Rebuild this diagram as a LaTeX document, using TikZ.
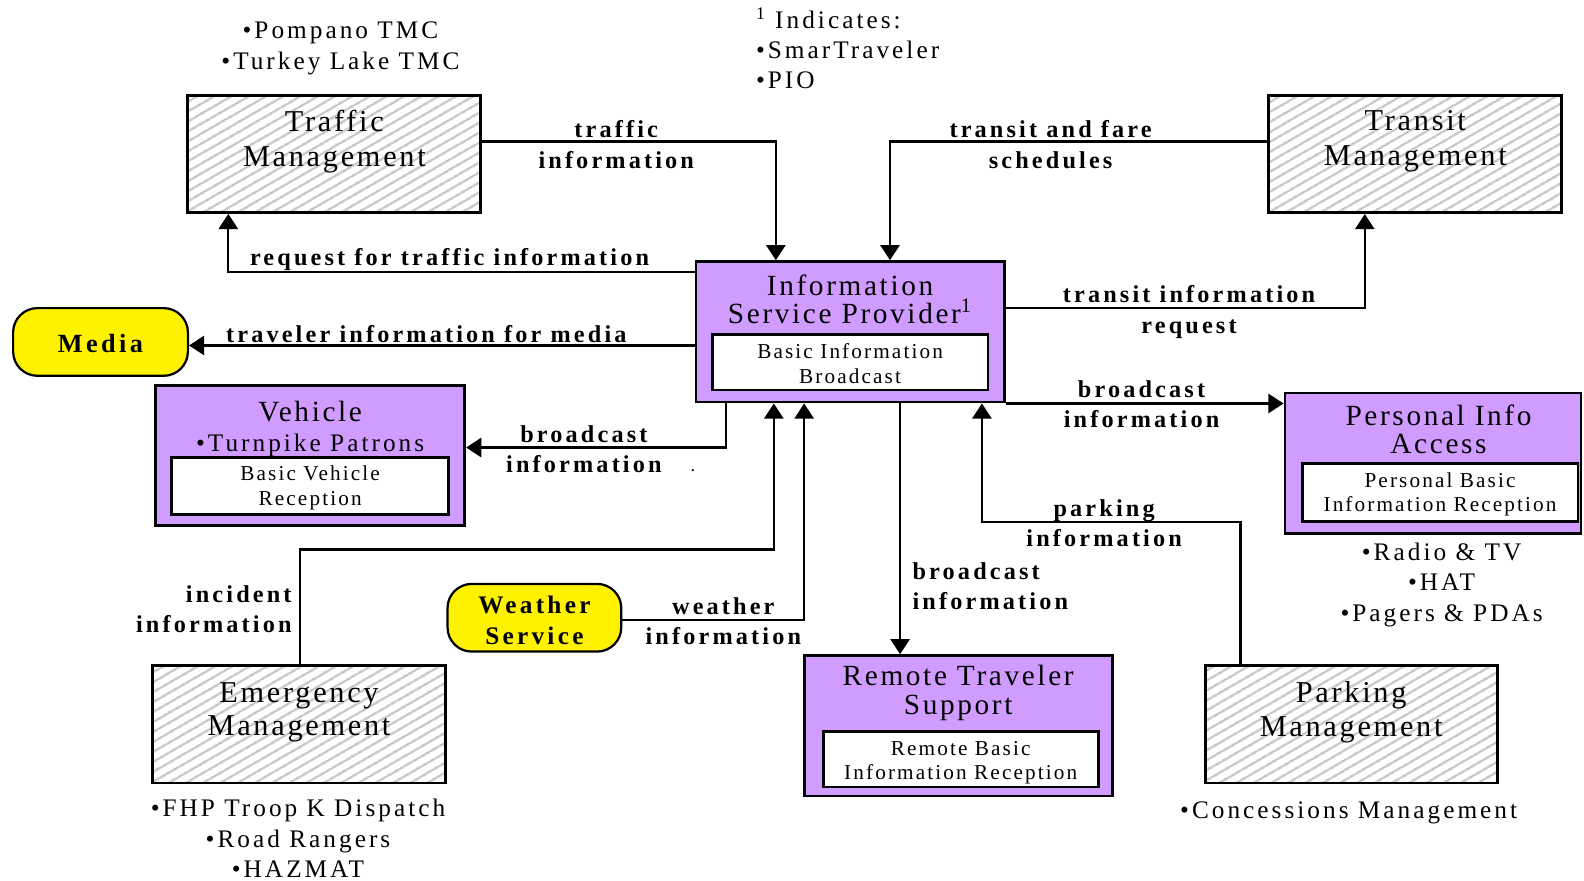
\documentclass[tikz,border=0pt]{standalone}
\usepackage{fontspec}
\setmainfont{Liberation Serif}
\newfontfamily\titlefam{Liberation Serif}[LetterSpace=9]
\newfontfamily\labfam{Liberation Serif}[LetterSpace=13]
\newfontfamily\notefam{Liberation Serif}[LetterSpace=12]
\newfontfamily\innerfam{Liberation Serif}[LetterSpace=10]
\usepackage{tikz}
\usetikzlibrary{arrows.meta,positioning,patterns.meta}
\definecolor{ispurple}{RGB}{208,156,255}

\begin{document}
\begin{tikzpicture}[x=0.5pt,y=-0.5pt,>={Triangle[length=7.5pt,width=9.5pt]}]
  \tikzstyle{hatchbox}=[draw,line width=1.4pt,inner sep=0pt,minimum width=145pt,minimum height=58pt,
    pattern={Lines[angle=30,distance=4pt,line width=1.2pt]},pattern color=gray!45]
  \tikzstyle{purplebox}=[draw,line width=1.4pt,fill=ispurple,inner sep=0pt,minimum width=152.5pt,minimum height=69.5pt]
  \tikzstyle{whitebox}=[draw,line width=1.4pt,fill=white,inner sep=0pt,minimum width=136.5pt,minimum height=28pt]
  \tikzstyle{yellowbox}=[draw,line width=1.1pt,fill=yellow,rounded corners=12pt,inner sep=0pt,minimum width=86.5pt,minimum height=33.5pt]
  \tikzstyle{title}=[align=center,inner sep=0pt,font=\titlefam\fontsize{14.5pt}{14pt}\selectfont]
  \tikzstyle{inner}=[align=center,inner sep=0pt,font=\innerfam\fontsize{10.5pt}{12pt}\selectfont]
  \tikzstyle{lab}=[align=center,inner sep=0pt,font=\labfam\bfseries\fontsize{12pt}{15pt}\selectfont]
  \tikzstyle{note}=[align=center,inner sep=0pt,font=\notefam\fontsize{12.5pt}{15pt}\selectfont]
  \tikzstyle{flow}=[->,line width=1.1pt]
  \useasboundingbox (0,0) rectangle (1568,872);

  % outside systems
  \node[hatchbox] (tm) at (331,152.5) {};
  \node[title,font=\titlefam\fontsize{15pt}{17.5pt}\selectfont] (tmt) at (331,140) {Traffic\\Management};
  \node[hatchbox] (trm) at (1401,152.5) {};
  \node[title,font=\titlefam\fontsize{15pt}{17.5pt}\selectfont] (trmt) at (1401,140) {Transit\\Management};
  \node[hatchbox] (em) at (296,717) {};
  \node[title,font=\titlefam\fontsize{15pt}{16pt}\selectfont] (emt) at (296,705) {Emergency\\Management};
  \node[hatchbox,minimum width=144.5pt] (pm) at (1337.5,717) {};
  \node[title,font=\titlefam\fontsize{15pt}{17pt}\selectfont] (pmt) at (1337.5,705) {Parking\\Management};
  \node[yellowbox] (media) at (99.5,338.5) {};
  \node[lab,font=\labfam\bfseries\fontsize{13pt}{15pt}\selectfont] (mediat) at (99.5,340) {Media};
  \node[yellowbox,minimum width=86pt] (ws) at (529,611.5) {};
  \node[lab,font=\labfam\bfseries\fontsize{12.5pt}{15pt}\selectfont] (wst) at (529,614) {Weather\\Service};

  % ITS subsystems
  \node[purplebox] (isp) at (841.5,328.5) {};
  \node[whitebox,minimum height=27.5pt] (ispin) at (841.5,358.5) {};
  \node[title] (ispt) at (841.5,296) {Information\\Service Provider\textsuperscript{1}};
  \node[inner] (ispint) at (841.5,360) {Basic Information\\Broadcast};
  \node[purplebox,minimum width=153pt,minimum height=69pt] (veh) at (307,451) {};
  \node[whitebox,minimum width=137pt] (vehin) at (307,481) {};
  \node[title,font=\titlefam\fontsize{14.5pt}{15pt}\selectfont] (veht) at (307,425) {Vehicle\\{\notefam\fontsize{12.5pt}{15pt}\selectfont •Turnpike Patrons}};
  \node[inner] (vehint) at (307,483) {Basic Vehicle\\Reception};
  \node[purplebox,minimum width=146.5pt] (pia) at (1418.5,458.5) {};
  \node[whitebox,minimum height=28.5pt] (piain) at (1425.5,487.5) {};
  \node[title] (piat) at (1424,425) {Personal Info\\Access};
  \node[inner] (piaint) at (1425.5,489.5) {Personal Basic\\Information Reception};
  \node[purplebox] (rts) at (948.5,718.5) {};
  \node[whitebox,minimum width=136pt,minimum height=27.5pt] (rtsin) at (951,751.5) {};
  \node[title] (rtst) at (948.5,686) {Remote Traveler\\Support};
  \node[inner] (rtsint) at (951,755) {Remote Basic\\Information Reception};

  % notes
  \node[note] (tmnote) at (337,48) {•Pompano TMC\\•Turkey Lake TMC};
  \node[note,align=left,anchor=west] (fnote) at (748,48) {\textsuperscript{1} Indicates:\\•SmarTraveler\\•PIO};
  \node[note] (pianote) at (1427,579) {•Radio \& TV\\•HAT\\•Pagers \& PDAs};
  \node[note] (emnote) at (295,830) {•FHP Troop K Dispatch\\•Road Rangers\\•HAZMAT};
  \node[note] (pmnote) at (1335,805) {•Concessions Management};
  \node[inner sep=0pt,font=\small] (dot) at (686,466) {.};

  % flows
  \draw[flow] (tm.east |- 0,140) -| (isp.north -| 768,0);
  \node[lab] (l1) at (610,143) {traffic\\information};
  \draw[flow] (trm.west |- 0,140) -| (isp.north -| 881,0);
  \node[lab] (l2) at (1040,143) {transit and fare\\schedules};
  \draw[flow] (isp.west |- 0,269) -| (tm.south -| 226,0);
  \node[lab] (l3) at (445,257) {request for traffic information};
  \draw[flow] (isp.east |- 0,305) -| (trm.south -| 1351,0);
  \node[lab] (l4) at (1177,309) {transit information\\request};
  \draw[flow] (isp.west |- 0,342) -- (media.east |- 0,342);
  \node[lab] (l5) at (422,331) {traveler information for media};
  \draw[flow] (isp.south -| 719,0) |- (veh.east |- 0,443);
  \node[lab] (l6) at (578,445) {broadcast\\information};
  \draw[flow] (isp.south east) -- (pia.west |- isp.south east);
  \node[lab] (l7) at (1130,400) {broadcast\\information};
  \draw[flow] (em.north -| 297,0) -- (297,544) -| (isp.south -| 766,0);
  \node[lab,align=right,anchor=east] (l8) at (289,603) {incident\\information};
  \draw[flow] (ws.east |- 0,614) -| (isp.south -| 796,0);
  \node[lab] (l9) at (716,615) {weather\\information};
  \draw[flow] (isp.south -| 891,0) -- (rts.north -| 891,0);
  \node[lab,align=left,anchor=west] (l10) at (903,580) {broadcast\\information};
  \draw[flow] (pm.north -| 1228,0) -- (1228,517) -| (isp.south -| 972,0);
  \node[lab] (l11) at (1093,518) {parking\\information};
\end{tikzpicture}
\end{document}
